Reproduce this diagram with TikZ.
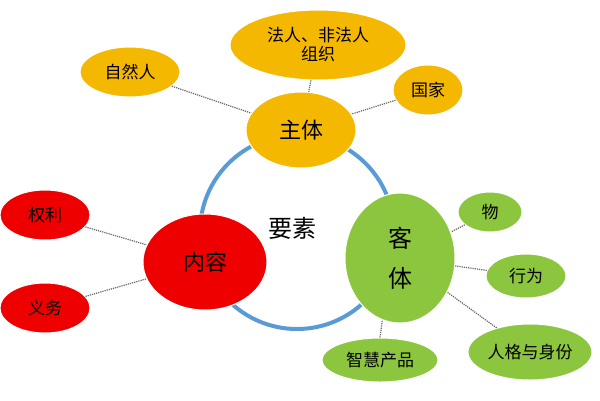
\documentclass[tikz,border=0pt]{standalone}
\usepackage{fontspec}
\setmainfont{Noto Sans CJK SC}
\usetikzlibrary{shapes.geometric}
\definecolor{org}{HTML}{F5B800}
\definecolor{rd}{HTML}{EE0000}
\definecolor{gr}{HTML}{8CC63F}
\definecolor{bl}{HTML}{5B9BD5}
\tikzset{
 el/.style={ellipse,draw=white,line width=1pt,inner sep=0pt},
 con/.style={draw=gray!80!black,densely dotted,line width=1.2pt}
}
\begin{document}
\begin{tikzpicture}[x=1pt,y=-1pt]
\useasboundingbox (0,0) rectangle (600,400);
\draw[bl,line width=4pt] (297,232) circle (97);
\node[el,fill=org,minimum width=176,minimum height=70,align=center,font=\fontsize{17}{19}\selectfont] (fr) at (318,45) {法人、非法人\\组织};
\node[el,fill=org,minimum width=100,minimum height=50,font=\fontsize{17}{19}\selectfont] (zr) at (130,72) {自然人};
\node[el,fill=org,minimum width=70,minimum height=50,font=\fontsize{17}{19}\selectfont] (gj) at (428,90) {国家};
\node[el,fill=rd,minimum width=90,minimum height=50,font=\fontsize{17}{19}\selectfont] (ql) at (45,215) {权利};
\node[el,fill=rd,minimum width=90,minimum height=50,font=\fontsize{17}{19}\selectfont] (yw) at (45,308) {义务};
\node[el,fill=gr,minimum width=64,minimum height=40,font=\fontsize{17}{19}\selectfont] (wu) at (490,212) {物};
\node[el,fill=gr,minimum width=80,minimum height=44,font=\fontsize{17}{19}\selectfont] (xw) at (526,276) {行为};
\node[el,fill=gr,minimum width=116,minimum height=44,font=\fontsize{17}{19}\selectfont] (zh) at (380,360) {智慧产品};
\node[el,fill=gr,minimum width=124,minimum height=56,font=\fontsize{17}{19}\selectfont] (rg) at (530,352) {人格与身份};
\path[con] (zr) -- (301,130) (fr) -- (301,130) (gj) -- (301,130)
 (ql) -- (205,262) (yw) -- (205,262)
 (wu) -- (400,258) (xw) -- (400,258) (zh.north) -- (385,300) (rg) -- (400,258);
\node[el,fill=org,minimum width=110,minimum height=76,font=\fontsize{22}{24}\selectfont] (zt) at (301,130) {主体};
\node[el,fill=rd,minimum width=124,minimum height=96,font=\fontsize{22}{24}\selectfont] (nr) at (205,262) {内容};
\node[el,fill=gr,minimum width=110,minimum height=130,align=center,font=\fontsize{24}{40}\selectfont] (kt) at (400,258) {客\\体};
\node[font=\fontsize{24}{26}\selectfont] (ys) at (292,228) {要素};
\end{tikzpicture}
\end{document}
